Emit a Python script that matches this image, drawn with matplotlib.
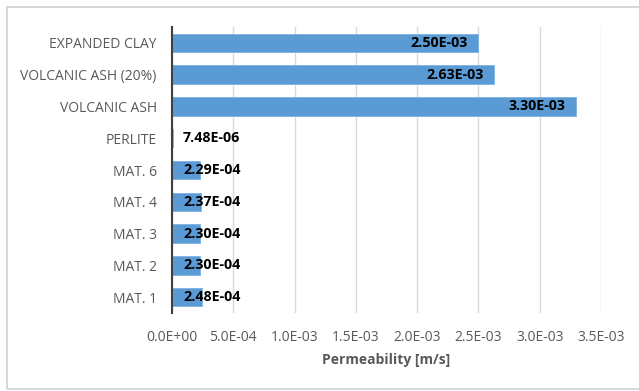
import matplotlib.pyplot as plt
from matplotlib.patches import Rectangle

# data (bottom to top, as drawn)
materials = ['MAT. 1', 'MAT. 2', 'MAT. 3', 'MAT. 4', 'MAT. 6',
             'PERLITE', 'VOLCANIC ASH', 'VOLCANIC ASH (20%)', 'EXPANDED CLAY']
permeability = [2.48e-4, 2.30e-4, 2.30e-4, 2.37e-4, 2.29e-4,
                7.48e-6, 3.30e-3, 2.63e-3, 2.50e-3]
xticks = [0, 5e-4, 1e-3, 1.5e-3, 2e-3, 2.5e-3, 3e-3, 3.5e-3]
xticklabels = ['0.0E+00', '5.0E-04', '1.0E-03', '1.5E-03', '2.0E-03',
               '2.5E-03', '3.0E-03', '3.5E-03']

plt.rcParams['font.family'] = ['Open Sans', 'DejaVu Sans']

W, H = 639, 391
fig = plt.figure(figsize=(W / 100, H / 100), dpi=100)
ax = fig.add_axes([172 / W, 1 - 313 / H, (601 - 172) / W, (313 - 27) / H])

y = list(range(len(materials)))
ax.barh(y, permeability, height=0.58, color='#5B9BD5', edgecolor='#7FB1E0',
        linewidth=0.6, zorder=2)

for yi, v in zip(y, permeability):
    lab = '%.2E' % v
    if v > 1e-3:
        ax.text(v - 0.09e-3, yi, lab, ha='right', va='center', fontsize=10.3,
                fontweight='bold', color='black', zorder=3)
    else:
        ax.text(0.09e-3, yi, lab, ha='left', va='center', fontsize=10.3,
                fontweight='bold', color='black', zorder=3)

ax.set_xlim(0, 3.5e-3)
ax.set_ylim(-0.5, len(materials) - 0.5)
ax.set_xticks(xticks)
ax.set_xticklabels(xticklabels)
ax.set_yticks(y)
ax.set_yticklabels(materials)
ax.tick_params(axis='both', length=0, labelsize=10, labelcolor='#595959')
ax.tick_params(axis='x', pad=12)
ax.tick_params(axis='y', pad=11)
ax.grid(axis='x', color='#D9D9D9', linewidth=1.0, zorder=0)
ax.set_axisbelow(True)
for s in ['top', 'right', 'bottom']:
    ax.spines[s].set_visible(False)
ax.spines['left'].set_color('#404040')
ax.spines['left'].set_linewidth(1.5)
ax.spines['left'].set_zorder(4)

ax.set_xlabel('Permeability [m/s]', fontsize=10, fontweight='bold',
              color='#595959', labelpad=6)

# chart area border
fig.patches.append(Rectangle((7 / W, 2 / H), 1.0, (389 - 7) / H,
                             transform=fig.transFigure, fill=False,
                             edgecolor='#D0D0D0', linewidth=1.2))

fig.savefig('out.png', dpi=100)
